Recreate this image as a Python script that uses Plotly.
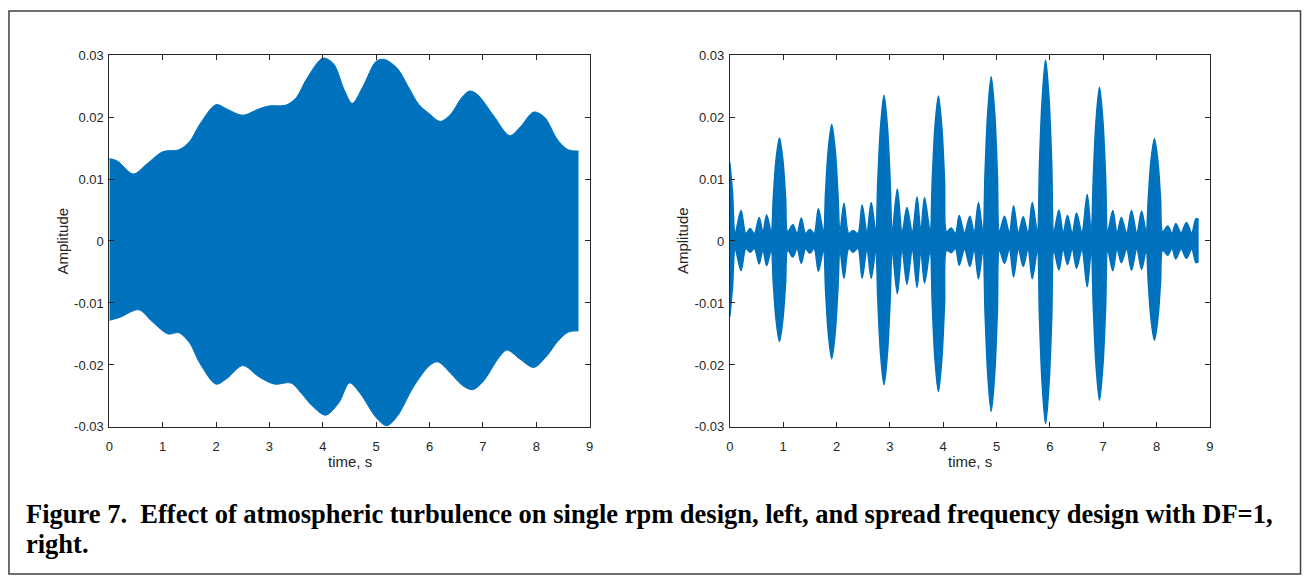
import plotly.graph_objects as go

# ---------------- data ----------------
# Left panel: single rpm design -- envelope of the dense oscillation
left_up_t = [0.00, 0.15, 0.45, 0.70, 1.00, 1.30, 1.50, 1.70, 2.00, 2.20, 2.50, 2.80, 3.00, 3.30,
             3.50, 3.70, 4.00, 4.20, 4.40, 4.55, 4.75, 5.00, 5.15, 5.40, 5.60, 5.80, 6.00, 6.20,
             6.40, 6.60, 6.75, 6.90, 7.20, 7.50, 7.70, 7.95, 8.15, 8.40, 8.60, 8.79]
left_up = [0.0133, 0.0129, 0.0108, 0.0124, 0.0144, 0.0147, 0.0160, 0.0189, 0.0220, 0.0213,
           0.0203, 0.0213, 0.0218, 0.0219, 0.0231, 0.0262, 0.0295, 0.0286, 0.0244, 0.0222,
           0.0249, 0.0290, 0.0293, 0.0278, 0.0249, 0.0220, 0.0205, 0.0193, 0.0205, 0.0231,
           0.0242, 0.0236, 0.0202, 0.0170, 0.0184, 0.0208, 0.0200, 0.0163, 0.0147, 0.0145]
left_lo_t = [0.00, 0.20, 0.55, 0.80, 1.10, 1.30, 1.50, 1.70, 2.00, 2.20, 2.50, 2.80, 3.10, 3.40,
             3.60, 3.80, 4.05, 4.30, 4.50, 4.70, 5.00, 5.20, 5.40, 5.70, 6.00, 6.15, 6.40, 6.60,
             6.80, 7.00, 7.30, 7.45, 7.70, 7.95, 8.20, 8.40, 8.60, 8.79]
left_lo = [-0.0128, -0.0123, -0.0111, -0.0130, -0.0150, -0.0148, -0.0164, -0.0198, -0.0231,
           -0.0222, -0.0201, -0.0219, -0.0231, -0.0229, -0.0246, -0.0266, -0.0281, -0.0261,
           -0.0229, -0.0246, -0.0285, -0.0298, -0.0282, -0.0235, -0.0201, -0.0195, -0.0214,
           -0.0232, -0.0240, -0.0227, -0.0188, -0.0176, -0.0191, -0.0204, -0.0185, -0.0162,
           -0.0147, -0.0145]

# Right panel: spread frequency design, DF=1 -- lobe peaks, big-lobe shoulders, narrow waists
right_peak_t = [0.00, 0.21, 0.38, 0.55, 0.69, 0.93, 1.18, 1.34, 1.50, 1.66, 1.91, 2.14, 2.31, 2.48,
                2.65, 2.89, 3.14, 3.32, 3.51, 3.65, 3.91, 4.15, 4.30, 4.50, 4.66, 4.90, 5.15, 5.32,
                5.50, 5.67, 5.92, 6.17, 6.33, 6.50, 6.70, 6.93, 7.18, 7.34, 7.53, 7.72, 7.96, 8.21,
                8.36, 8.56, 8.74, 8.79]
right_peak_up = [0.0127, 0.0049, 0.0020, 0.0038, 0.0042, 0.0166, 0.0026, 0.0037, 0.0019, 0.0052,
                 0.0188, 0.0061, 0.0017, 0.0058, 0.0062, 0.0235, 0.0084, 0.0054, 0.0071, 0.0070,
                 0.0234, 0.0021, 0.0041, 0.0040, 0.0062, 0.0265, 0.0040, 0.0057, 0.0039, 0.0062,
                 0.0292, 0.0050, 0.0041, 0.0045, 0.0075, 0.0248, 0.0049, 0.0038, 0.0049, 0.0048,
                 0.0165, 0.0024, 0.0028, 0.0030, 0.0036, 0.0034]
right_peak_lo = [-0.0122, -0.0048, -0.0018, -0.0037, -0.0040, -0.0162, -0.0026, -0.0036, -0.0020,
                 -0.0049, -0.0190, -0.0060, -0.0018, -0.0060, -0.0060, -0.0232, -0.0085, -0.0070,
                 -0.0075, -0.0068, -0.0243, -0.0019, -0.0039, -0.0041, -0.0061, -0.0275, -0.0036,
                 -0.0058, -0.0041, -0.0061, -0.0295, -0.0047, -0.0038, -0.0044, -0.0074, -0.0257,
                 -0.0048, -0.0035, -0.0047, -0.0046, -0.0160, -0.0023, -0.0029, -0.0028, -0.0035,
                 -0.0033]
right_shoulder_t = [0.05,
                    0.815, 0.865, 0.995, 1.045,
                    1.795, 1.845, 1.975, 2.025,
                    2.775, 2.825, 2.955, 3.005,
                    3.795, 3.845, 3.975, 4.025,
                    4.785, 4.835, 4.965, 5.015,
                    5.805, 5.855, 5.985, 6.035,
                    6.815, 6.865, 6.995, 7.045,
                    7.845, 7.895, 8.025, 8.075]
right_shoulder_up = [0.0078,
                     0.0070, 0.0130, 0.0130, 0.0070,
                     0.0079, 0.0147, 0.0147, 0.0079,
                     0.0099, 0.0183, 0.0183, 0.0099,
                     0.0098, 0.0183, 0.0183, 0.0098,
                     0.0111, 0.0207, 0.0207, 0.0111,
                     0.0123, 0.0228, 0.0228, 0.0123,
                     0.0104, 0.0193, 0.0193, 0.0104,
                     0.0069, 0.0129, 0.0129, 0.0069]
right_shoulder_lo = [-0.0074,
                     -0.0068, -0.0126, -0.0126, -0.0068,
                     -0.0080, -0.0148, -0.0148, -0.0080,
                     -0.0097, -0.0181, -0.0181, -0.0097,
                     -0.0102, -0.0190, -0.0190, -0.0102,
                     -0.0116, -0.0215, -0.0215, -0.0116,
                     -0.0124, -0.0230, -0.0230, -0.0124,
                     -0.0108, -0.0200, -0.0200, -0.0108,
                     -0.0067, -0.0125, -0.0125, -0.0067]
right_waist_t = [0.10, 0.30, 0.46, 0.62, 0.775, 1.085, 1.26, 1.42, 1.58, 1.755, 2.065, 2.23, 2.40, 2.57,
                 2.735, 3.045, 3.23, 3.42, 3.58, 3.755, 4.065, 4.23, 4.40, 4.58, 4.745, 5.055, 5.24, 5.41,
                 5.59, 5.765, 6.075, 6.25, 6.42, 6.60, 6.775, 7.085, 7.26, 7.44, 7.63, 7.805, 8.115, 8.29,
                 8.46, 8.66]
right_waist_up = [0.0013, 0.0012, 0.0012, 0.0014, 0.0015, 0.0015, 0.0012, 0.0012, 0.0012, 0.0015,
                  0.0015, 0.0012, 0.0012, 0.0014, 0.0016, 0.0016, 0.0014, 0.0015, 0.0016, 0.0016,
                  0.0015, 0.0012, 0.0013, 0.0014, 0.0015, 0.0015, 0.0013, 0.0013, 0.0013, 0.0015,
                  0.0015, 0.0013, 0.0013, 0.0014, 0.0015, 0.0015, 0.0013, 0.0013, 0.0013, 0.0015,
                  0.0015, 0.0012, 0.0013, 0.0013]
right_waist_lo = [-0.0013, -0.0012, -0.0012, -0.0014, -0.0015, -0.0015, -0.0012, -0.0012, -0.0012,
                  -0.0015, -0.0015, -0.0012, -0.0012, -0.0014, -0.0016, -0.0016, -0.0014, -0.0015,
                  -0.0016, -0.0016, -0.0015, -0.0012, -0.0013, -0.0014, -0.0015, -0.0015, -0.0013,
                  -0.0013, -0.0013, -0.0015, -0.0015, -0.0013, -0.0013, -0.0014, -0.0015, -0.0015,
                  -0.0013, -0.0013, -0.0013, -0.0015, -0.0015, -0.0012, -0.0013, -0.0013]

x_tickvals = [0, 1, 2, 3, 4, 5, 6, 7, 8, 9]
x_ticktext = ["0", "1", "2", "3", "4", "5", "6", "7", "8", "9"]
y_tickvals = [-0.03, -0.02, -0.01, 0, 0.01, 0.02, 0.03]
y_ticktext = ["-0.03", "-0.02", "-0.01", "0", "0.01", "0.02", "0.03"]

x_title = "time, s"
y_title = "Amplitude"
caption_lines = ["Figure 7.\u00a0 Effect of atmospheric turbulence on single rpm design, left, and spread frequency design with DF=1,",
                 "right."]

# ---------------- figure ----------------
W, H = 1309, 584
BLUE = "#0072BD"
AX = "#262626"


def merged(*pairs):
    pts = []
    for t, v in pairs:
        pts += list(zip(t, v))
    pts.sort()
    return [p[0] for p in pts], [p[1] for p in pts]


fig = go.Figure()

# left panel
fig.add_trace(go.Scatter(x=left_lo_t, y=left_lo, mode="lines", line=dict(color=BLUE, width=1, shape="spline", smoothing=0.9),
                         xaxis="x", yaxis="y", showlegend=False, hoverinfo="skip"))
fig.add_trace(go.Scatter(x=left_up_t, y=left_up, mode="lines", line=dict(color=BLUE, width=1, shape="spline", smoothing=0.9),
                         fill="tonexty", fillcolor=BLUE, xaxis="x", yaxis="y", showlegend=False, hoverinfo="skip"))

# right panel
rt_lo, rv_lo = merged((right_peak_t, right_peak_lo), (right_shoulder_t, right_shoulder_lo), (right_waist_t, right_waist_lo))
rt_up, rv_up = merged((right_peak_t, right_peak_up), (right_shoulder_t, right_shoulder_up), (right_waist_t, right_waist_up))
fig.add_trace(go.Scatter(x=rt_lo, y=rv_lo, mode="lines", line=dict(color=BLUE, width=1.5, shape="spline", smoothing=0.9),
                         xaxis="x2", yaxis="y2", showlegend=False, hoverinfo="skip"))
fig.add_trace(go.Scatter(x=rt_up, y=rv_up, mode="lines", line=dict(color=BLUE, width=1.5, shape="spline", smoothing=0.9),
                         fill="tonexty", fillcolor=BLUE, xaxis="x2", yaxis="y2", showlegend=False, hoverinfo="skip"))

L1, R1 = 106.0, 589.3
L2, R2 = 730.3, 1213.3
TOP, BOT = 49.3, 431.0

tickfont = dict(family="Liberation Sans, Arial, sans-serif", size=13, color=AX)
common_x = dict(range=[0, 9], tickvals=x_tickvals, ticktext=x_ticktext, showgrid=False, zeroline=False,
                showline=True, linecolor=AX, linewidth=1, mirror="ticks", ticks="inside", ticklen=5,
                tickcolor=AX, tickwidth=1, tickfont=tickfont, fixedrange=True, ticklabelstandoff=7)
common_y = dict(range=[-0.03, 0.03], tickvals=y_tickvals, ticktext=y_ticktext, showgrid=False, zeroline=False,
                showline=True, linecolor=AX, linewidth=1, mirror="ticks", ticks="inside", ticklen=5,
                tickcolor=AX, tickwidth=1, tickfont=tickfont, fixedrange=True, ticklabelstandoff=2)

fig.update_layout(
    width=W, height=H, margin=dict(l=0, r=0, t=0, b=0),
    paper_bgcolor="white", plot_bgcolor="white",
    xaxis=dict(domain=[L1 / W, R1 / W], anchor="y", **common_x),
    yaxis=dict(domain=[1 - BOT / H, 1 - TOP / H], anchor="x", **common_y),
    xaxis2=dict(domain=[L2 / W, R2 / W], anchor="y2", **common_x),
    yaxis2=dict(domain=[1 - BOT / H, 1 - TOP / H], anchor="x2", **common_y),
)

labfont = dict(family="Liberation Sans, Arial, sans-serif", size=15, color=AX)
ann = []
for (l, r) in [(L1, R1), (L2, R2)]:
    ann.append(dict(x=(l + r) / 2 / W, y=1 - 466 / H, xref="paper", yref="paper", text=x_title,
                    showarrow=False, font=labfont, xanchor="center", yanchor="middle"))
    ann.append(dict(x=(l - 47) / W, y=1 - (TOP + BOT) / 2 / H, xref="paper", yref="paper", text=y_title,
                    showarrow=False, font=labfont, textangle=-90, xanchor="center", yanchor="middle"))

capfont = dict(family="Liberation Serif, Times New Roman, serif", size=26.5, color="black")
for i, line in enumerate(caption_lines):
    ann.append(dict(x=20 / W, y=1 - (520 + 31 * i) / H, xref="paper", yref="paper",
                    text="<b>" + line + "</b>", showarrow=False, font=capfont,
                    xanchor="left", yanchor="middle", align="left"))
fig.update_layout(annotations=ann)

fig.add_shape(type="rect", xref="paper", yref="paper", x0=5 / W, x1=1304.5 / W, y0=1 - 582 / H, y1=1 - 4 / H,
              line=dict(color="#404040", width=1.5), fillcolor="rgba(0,0,0,0)", layer="above")

fig.write_html("out.html")
